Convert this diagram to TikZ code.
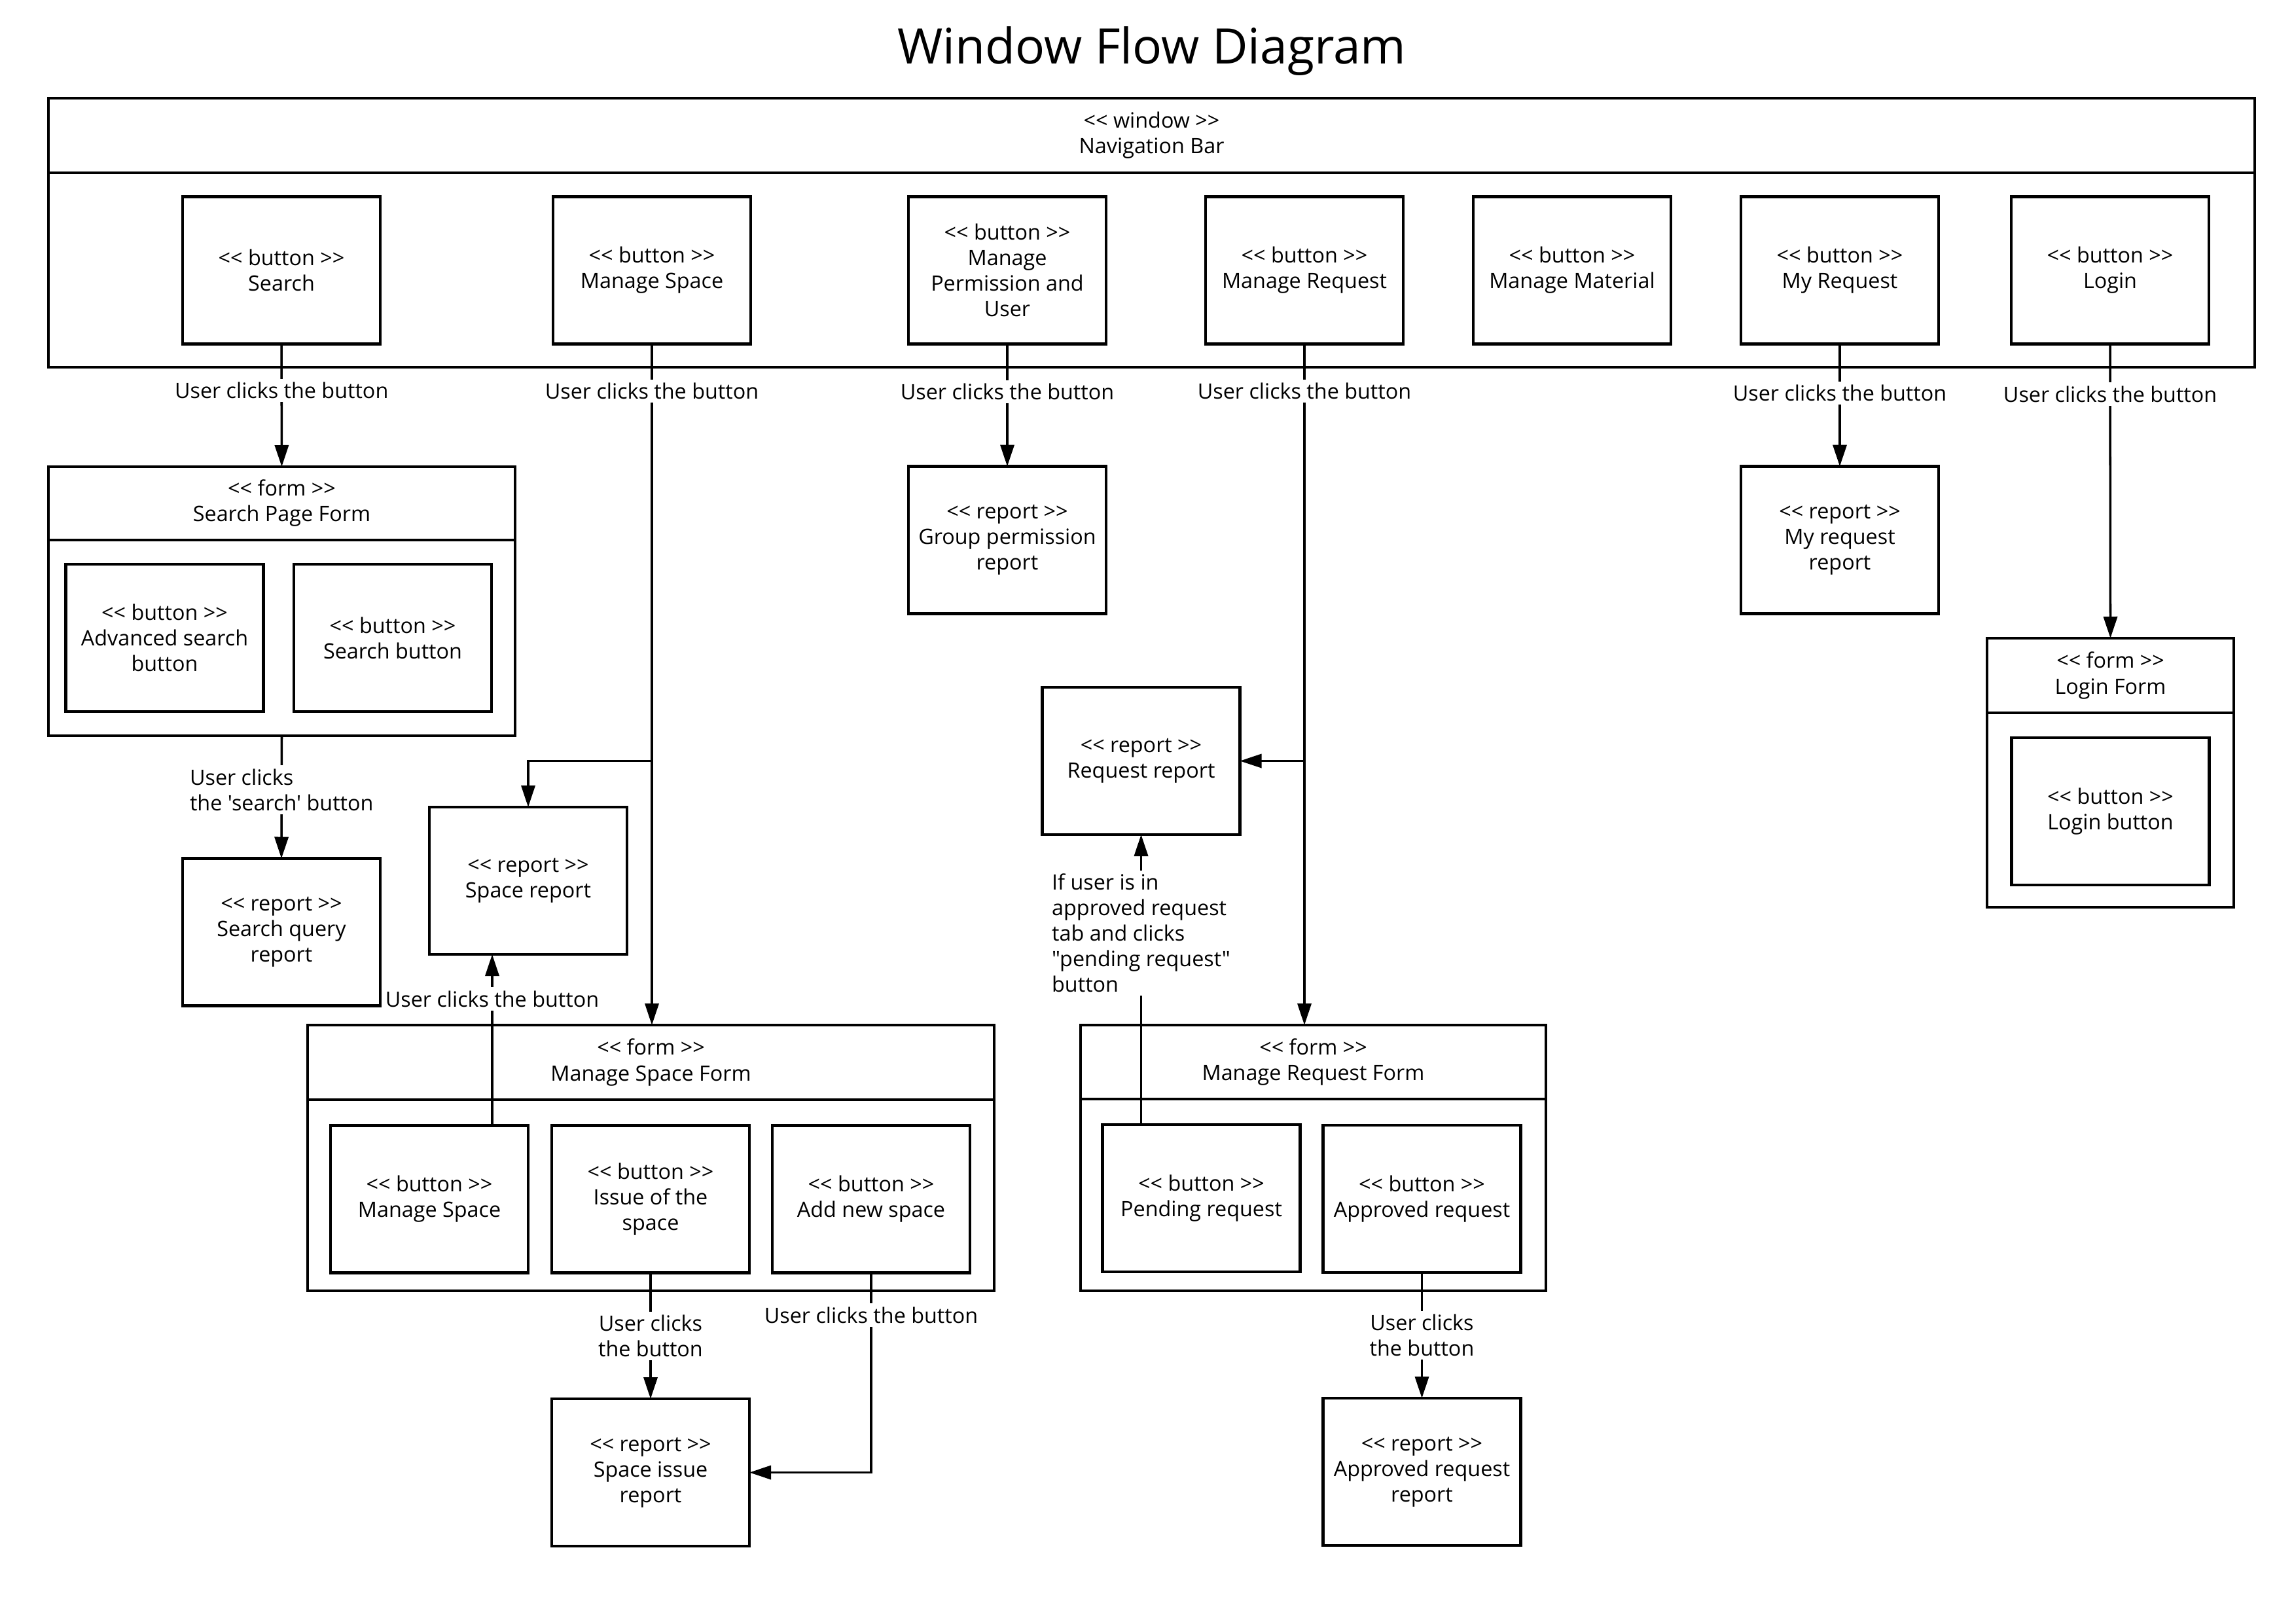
\documentclass[tikz,border=0pt]{standalone}
\usepackage{fontspec}
\setmainfont{Open Sans}[Ligatures=TeXOff]
\usetikzlibrary{positioning, arrows.meta, calc}

\newcommand{\boxfont}{\fontsize{9.2}{11.1}\selectfont}
\newcommand{\stereo}[1]{<< #1 >>}

\begin{document}
\begin{tikzpicture}[
    button/.style={rectangle, draw, black, line width=1.2pt, minimum width=3.02cm, minimum height=2.25cm, align=center, font=\boxfont, inner sep=1pt, outer sep=0pt},
    report/.style={button},
    form_head/.style={rectangle, draw, black, line width=1.1pt, minimum height=1.13cm, align=center, font=\boxfont, outer sep=0pt},
    form_body/.style={rectangle, draw, black, line width=1.1pt, outer sep=0pt},
    action/.style={fill=white, font=\boxfont, align=center, inner sep=1.5pt},
    link/.style={draw, black, line width=1pt},
    flow/.style={link, -{Triangle[length=0.33cm, width=0.21cm]}}]

    \useasboundingbox (0,0) rectangle (35.05,-24.80);

    % --- Title ---
    \node[font=\fontsize{21.3}{26}\selectfont] (title) at (17.60,-0.78) {Window Flow Diagram};

    % --- Navigation Bar ---
    \node[form_head, minimum width=33.71cm, minimum height=1.14cm] (nav_head) at (17.595,-2.07) {\stereo{window}\\Navigation Bar};
    \node[form_body, minimum width=33.71cm, minimum height=2.97cm, below=0pt of nav_head] (nav_body) {};

    \node[button] (search_nav) at (4.30,-4.13) {\stereo{button}\\Search};
    \node[button] (space_nav) at (9.96,-4.13) {\stereo{button}\\Manage Space};
    \node[button] (perm_nav) at (15.39,-4.13) {\stereo{button}\\Manage\\Permission and\\User};
    \node[button] (request_nav) at (19.93,-4.13) {\stereo{button}\\Manage Request};
    \node[button] (material_nav) at (24.02,-4.13) {\stereo{button}\\Manage Material};
    \node[button] (myreq_nav) at (28.11,-4.13) {\stereo{button}\\My Request};
    \node[button] (login_nav) at (32.24,-4.13) {\stereo{button}\\Login};

    % --- Search Page Form ---
    \node[form_head, minimum width=7.13cm, minimum height=1.12cm] (search_head) at (4.305,-7.69) {\stereo{form}\\Search Page Form};
    \node[form_body, minimum width=7.13cm, minimum height=2.99cm, below=0pt of search_head] (search_body) {};
    \node[button] (adv_btn) at (2.515,-9.745) {\stereo{button}\\Advanced search\\button};
    \node[button] (search_btn) at (6.00,-9.745) {\stereo{button}\\Search button};
    \node[report] (query_rep) at (4.30,-14.24) {\stereo{report}\\Search query\\report};

    % --- Reports ---
    \node[report] (space_rep) at (8.07,-13.455) {\stereo{report}\\Space report};
    \node[report] (perm_rep) at (15.39,-8.25) {\stereo{report}\\Group permission\\report};
    \node[report] (myreq_rep) at (28.11,-8.25) {\stereo{report}\\My request\\report};
    \node[report] (req_rep) at (17.435,-11.625) {\stereo{report}\\Request report};

    % --- Login Form ---
    \node[form_head, minimum width=3.77cm, minimum height=1.14cm] (login_head) at (32.245,-10.32) {\stereo{form}\\Login Form};
    \node[form_body, minimum width=3.77cm, minimum height=2.97cm, below=0pt of login_head] (login_body) {};
    \node[button, line width=1.4pt] (login_btn) at (32.245,-12.395) {\stereo{button}\\Login button};

    % --- Manage Space Form ---
    \node[form_head, minimum width=10.49cm, minimum height=1.14cm] (ms_head) at (9.945,-16.23) {\stereo{form}\\Manage Space Form};
    \node[form_body, minimum width=10.49cm, minimum height=2.92cm, below=0pt of ms_head] (ms_body) {};
    \node[button] (ms_btn) at (6.56,-18.32) {\stereo{button}\\Manage Space};
    \node[button] (issue_btn) at (9.94,-18.32) {\stereo{button}\\Issue of the\\space};
    \node[button] (add_btn) at (13.31,-18.32) {\stereo{button}\\Add new space};
    \node[report] (issue_rep) at (9.94,-22.495) {\stereo{report}\\Space issue\\report};

    % --- Manage Request Form ---
    \node[form_head, minimum width=7.11cm, minimum height=1.13cm] (mr_head) at (20.065,-16.225) {\stereo{form}\\Manage Request Form};
    \node[form_body, minimum width=7.11cm, minimum height=2.93cm, below=0pt of mr_head] (mr_body) {};
    \node[button] (pend_btn) at (18.355,-18.305) {\stereo{button}\\Pending request};
    \node[button] (appr_btn) at (21.725,-18.315) {\stereo{button}\\Approved request};
    \node[report] (appr_rep) at (21.725,-22.485) {\stereo{report}\\Approved request\\report};

    % --- Flows from the navigation bar ---
    \draw[flow] (search_nav.south) -- node[action, pos=0.38] {User clicks the button} (search_head.north);
    \draw[flow] (space_nav.south) -- node[action, pos=0.069] {User clicks the button} (space_nav.south |- ms_head.north);
    \draw[flow] (space_nav.south |- req_rep.east) -| (space_rep.north);
    \draw[flow] (perm_nav.south) -- node[action, pos=0.39] {User clicks the button} (perm_rep.north);
    \draw[flow] (request_nav.south) -- node[action, pos=0.069] {User clicks the button} (request_nav.south |- mr_head.north);
    \draw[flow] (request_nav.south |- req_rep.east) -- (req_rep.east);
    \draw[flow] (myreq_nav.south) -- node[action, pos=0.40] {User clicks the button} (myreq_rep.north);
    \draw[flow] (login_nav.south) -- node[action, pos=0.17] {User clicks the button} (login_head.north);

    % --- Flows inside the forms ---
    \draw[flow] (search_body.south) -- node[action, align=left, pos=0.44] {User clicks\\the 'search' button} (query_rep.north);

    \coordinate (ms_up) at ([xshift=-0.55cm]space_rep.south);
    \draw[flow] (ms_up |- ms_btn.north) -- node[action, pos=0.74] {User clicks the button} (ms_up);
    \draw[flow] (issue_btn.south) -- node[action] {User clicks\\the button} (issue_rep.north);
    \draw[flow] (add_btn.south) |- node[action, pos=0.106] {User clicks the button} (issue_rep.east);

    \draw[flow] (req_rep.south |- pend_btn.north) -- node[action, align=left, pos=0.66] {If user is in\\approved request\\tab and clicks\\"pending request"\\button} (req_rep.south);
    \draw[flow] (appr_btn.south) -- node[action] {User clicks\\the button} (appr_rep.north);

\end{tikzpicture}
\end{document}
